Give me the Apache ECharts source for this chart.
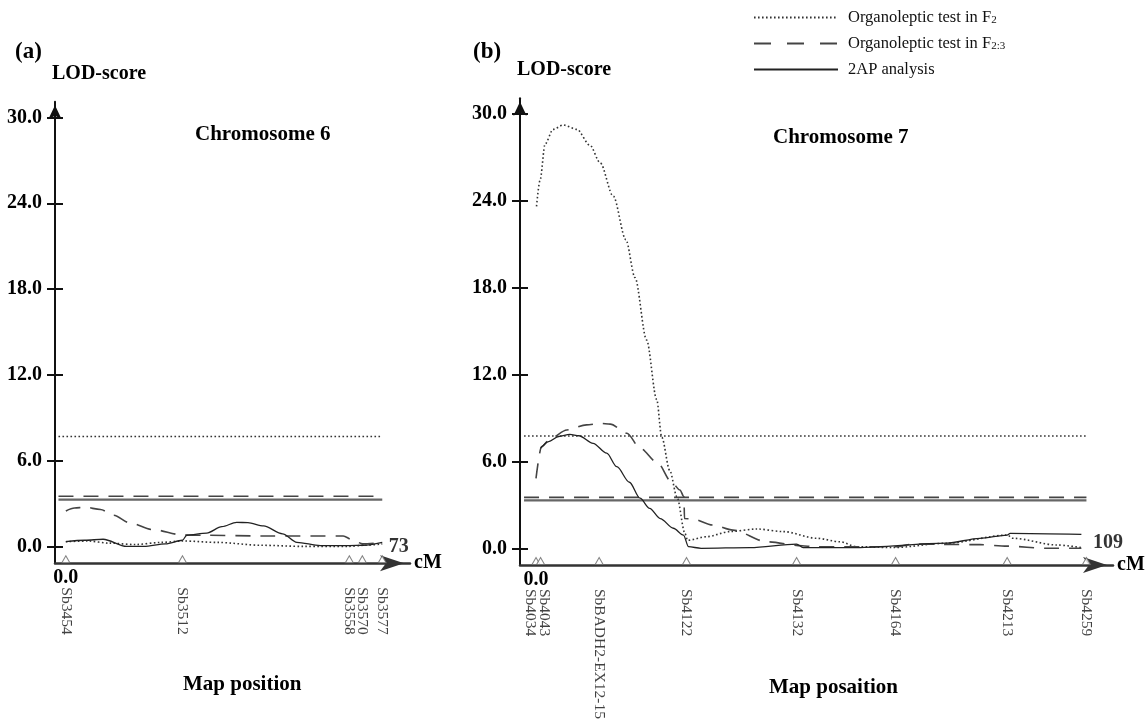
<!DOCTYPE html>
<html>
<head>
<meta charset="utf-8">
<script src="https://cdn.jsdelivr.net/npm/echarts@6/dist/echarts.min.js"></script>
<style>html,body{margin:0;background:#fff}#main{width:1146px;height:722px}</style>
</head>
<body>
<div id="main"></div>
<script>
// LOD tick values
var yTicks=[0,6,12,18,24,30]

// chromosome 6
var markersA=['Sb3454','Sb3512','Sb3558','Sb3570','Sb3577']
var markerPosA=[0,26.9,65.4,68.4,73]
var lengthA=73
var thresholdsA=[7.7,3.53,3.29] // F2, F2:3, 2AP
var f2A=[[0,0.35],[5,0.4],[10,0.25],[16,0.15],[22,0.3],[27,0.4],[35,0.3],[45,0.1],[55,0.02],[65,0.02],[69,0.1],[73,0.2]]
var f23A=[[0,2.5],[2,2.7],[4.4,2.76],[8,2.6],[11,2.2],[14.8,1.66],[20,1.2],[26.9,0.82],[32,0.8],[45,0.75],[64,0.75],[66,0.5],[68.5,0.2],[73,0.3]]
var ap2A=[[0,0.35],[4.4,0.45],[8.6,0.52],[14,0.02],[18,0.02],[23,0.2],[26.9,0.45],[27.9,0.8],[32.5,0.95],[36,1.4],[39.4,1.7],[42,1.68],[45.6,1.45],[50,0.9],[53.3,0.3],[58.7,0.08],[65.4,0.08],[68.7,0.1],[73,0.3]]

// chromosome 7
var markersB=['Sb4034','Sb4043','SbBADH2-EX12-15','Sb4122','Sb4132','Sb4164','Sb4213','Sb4259']
var markerPosB=[0,0.9,12.5,29.8,51.6,71.2,93.3,109]
var lengthB=109
var thresholdsB=[7.78,3.56,3.35]
var f2B=[[0.1,23.6],[0.8,25.4],[1.8,27.9],[3.4,28.9],[5.4,29.2],[8.1,28.9],[10.7,27.8],[12.7,26.6],[15.3,24.3],[17.8,21.3],[19.6,18.7],[21.9,14.4],[23.9,10.3],[24.9,7.7],[26.5,5.4],[27.9,3.6],[29.5,1.08],[30,0.6],[33.8,0.85],[38.4,1.2],[43.7,1.38],[49,1.2],[55.6,0.74],[60.2,0.5],[63.5,0.16],[70.7,0.1],[81.3,0.4],[93.3,0.96],[94.5,0.74],[103.1,0.28],[108,0.1]]
var f23B=[[0,4.87],[1.1,7.05],[2.8,7.6],[6.1,8.2],[10,8.55],[12.7,8.65],[14.7,8.6],[18,7.97],[20.6,6.95],[23.9,6.0],[27.1,4.5],[28.5,4.06],[29.3,3.6],[29.4,2.1],[31,2.07],[35,1.65],[39,1.3],[45.7,0.5],[52.7,0.23],[54.9,0.16],[71.4,0.16],[74.7,0.34],[87.9,0.3],[93.3,0.2],[101.1,0.05],[108,0.05]]
var ap2B=[[0.9,6.93],[2.5,7.4],[4.5,7.75],[6.7,7.9],[8.5,7.8],[11.3,7.28],[14,6.6],[16,5.67],[18.5,4.6],[20.6,3.5],[22.5,2.8],[24.6,2.1],[27.2,1.43],[29.2,0.96],[30.2,0.16],[32.7,0.05],[42.4,0.1],[51.6,0.34],[52.9,0.1],[63.5,0.1],[81.3,0.4],[87.9,0.74],[93.3,0.96],[93.9,1.08],[108,1.01]]

var names=['Organoleptic test in F2','Organoleptic test in F2:3','2AP analysis']
var labelNudge={'Sb4034':-6,'Sb4043':4}

var serif='Liberation Serif'
function bold(size){return {fontFamily:serif,fontWeight:'bold',fontSize:size,color:'#000'}}
var dot={color:'#333',width:1.6,type:[1.6,2.4]}
var dash={color:'#444',width:1.6,type:[15,10]}
var solid={color:'#222',width:1.3}
var thrSolid={color:'#666',width:2.2}

var panels=[
  {grid:{left:55,top:101.7,width:355,height:461.6},xmin:-2.5,xmax:79.4,ymin:-1.16,ymax:31.1,
   markers:markersA,pos:markerPosA,len:lengthA,thr:thresholdsA,curves:[f2A,f23A,ap2A],lenY:0},
  {grid:{left:520,top:98.3,width:593,height:466.7},xmin:-3.17,xmax:114.26,ymin:-1.1,ymax:31.04,
   markers:markersB,pos:markerPosB,len:lengthB,thr:thresholdsB,curves:[f2B,f23B,ap2B],lenY:0.4}
]

var grids=[],xAxes=[],yAxes=[],series=[]
panels.forEach(function(p,i){
  grids.push(Object.assign({outerBoundsMode:'none',containLabel:false},p.grid))
  xAxes.push({type:'value',gridIndex:i,min:p.xmin,max:p.xmax,
    axisLine:{show:true,onZero:false,symbol:['none','arrow'],symbolSize:[12,24],symbolOffset:[0,-6],lineStyle:{color:'#333',width:2.5}},
    axisTick:{show:false},splitLine:{show:false},
    axisLabel:Object.assign({customValues:[0],formatter:function(v){return v.toFixed(1)},margin:5},bold(20)),
    name:'cM',nameLocation:'end',nameGap:4,nameTextStyle:bold(20)})
  ;[true,false].forEach(function(main){
    yAxes.push({type:'value',gridIndex:i,min:p.ymin,max:p.ymax,position:'left',offset:0,
      axisLine:{show:main,onZero:false,symbol:['none','arrow'],symbolSize:[10,14],symbolOffset:[0,-3.5],lineStyle:{color:'#111',width:2}},
      axisTick:{show:true,inside:!main,length:8,customValues:yTicks,lineStyle:{color:'#111',width:2}},
      axisLabel:Object.assign({show:main,customValues:yTicks,formatter:function(v){return v.toFixed(1)},margin:13},bold(20)),
      splitLine:{show:false},
      name:main?'LOD-score':'',nameLocation:'end',nameGap:18,nameTextStyle:Object.assign({align:'left',padding:[0,0,0,-3]},bold(20))})
  })
  var styles=[dot,dash,solid]
  var thrStyles=[dot,dash,thrSolid]
  p.thr.forEach(function(v,k){
    series.push({type:'line',xAxisIndex:i,yAxisIndex:2*i,data:[[p.xmin+0.8,v],[p.len,v]],symbol:'none',lineStyle:thrStyles[k],silent:true,z:2})
  })
  p.curves.forEach(function(d,k){
    series.push({type:'line',name:names[k],xAxisIndex:i,yAxisIndex:2*i,data:d,symbol:'none',smooth:0.3,smoothMonotone:'x',
      lineStyle:styles[k],itemStyle:{color:styles[k].color},silent:true,z:3})
  })
  series.push({type:'scatter',xAxisIndex:i,yAxisIndex:2*i,symbol:'triangle',symbolSize:[8,7],symbolOffset:[0,-4],clip:false,silent:true,z:5,
    itemStyle:{color:'#fff',borderColor:'#666',borderWidth:1},
    data:p.markers.map(function(n,k){return {name:n,value:[p.pos[k],p.ymin],label:{offset:[0,-(labelNudge[n]||0)]}}}),
    label:{show:true,formatter:'{b}',position:'bottom',distance:24,rotate:-90,align:'left',verticalAlign:'middle',fontFamily:serif,fontSize:15.5,color:'#111'}})
  series.push({type:'scatter',xAxisIndex:i,yAxisIndex:2*i,symbolSize:1,itemStyle:{color:'rgba(0,0,0,0)'},silent:true,clip:false,
    data:[[p.len,p.lenY]],label:Object.assign({show:true,position:'right',distance:6,formatter:String(p.len)},bold(20))})
})

function txt(x,y,t,size){return {type:'text',x:x,y:y,style:{text:t,font:'bold '+size+'px "Liberation Serif"',fill:'#000',verticalAlign:'middle',textVerticalAlign:'middle'}}}

var myChart=echarts.init(document.getElementById('main'))
myChart.setOption({
  animation:false,
  backgroundColor:'#fff',
  grid:grids,xAxis:xAxes,yAxis:yAxes,series:series,
  legend:{orient:'vertical',left:748,top:4,itemWidth:84,itemHeight:14,itemGap:9,selectedMode:false,
    itemStyle:{opacity:0},
    data:[{name:names[0]},{name:names[1],lineStyle:{type:[17,16],width:2}},{name:names[2]}],
    textStyle:{fontFamily:serif,fontSize:16.5,color:'#111',padding:[0,0,0,5],rich:{s:{fontFamily:serif,fontSize:11,color:'#111',padding:[6,0,0,0]}}},
    formatter:function(n){
      if(n===names[0])return 'Organoleptic test in F{s|2}'
      if(n===names[1])return 'Organoleptic test in F{s|2:3}'
      return n
    }},
  graphic:[
    txt(15,52,'(a)',23),txt(473,52,'(b)',23),
    txt(195,135,'Chromosome 6',21),txt(773,138,'Chromosome 7',21),
    txt(183,685,'Map position',21),txt(769,688,'Map posaition',21)
  ]
})
</script>
</body>
</html>
